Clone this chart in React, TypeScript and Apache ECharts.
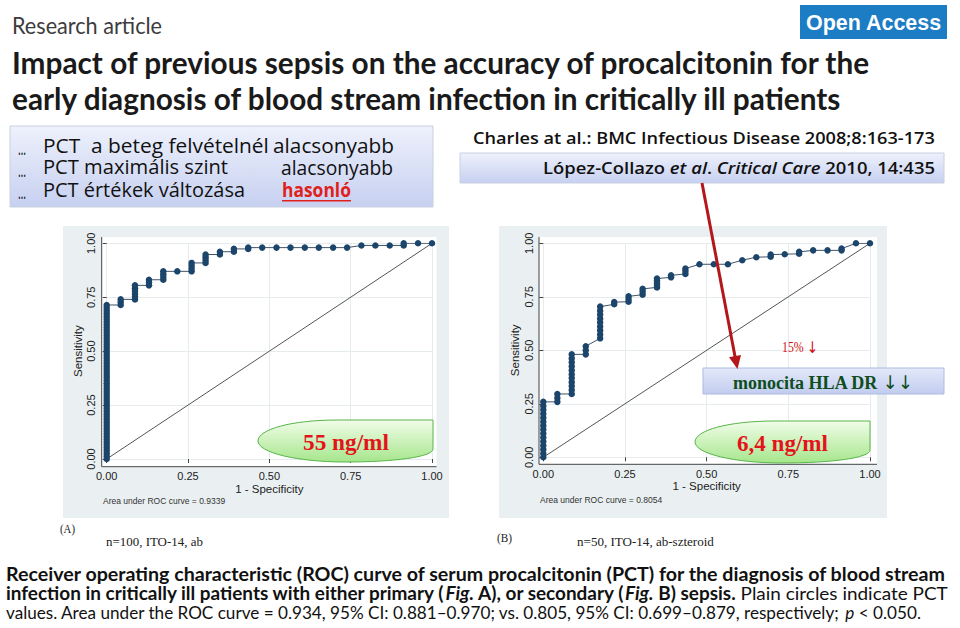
import React, { useEffect, useRef } from "react";
import * as echarts from "echarts";

// ---------- data ----------
const fprSteps = [0, 0.043, 0.087, 0.13, 0.174, 0.217, 0.261, 0.304, 0.348, 0.391, 0.435, 0.478, 0.522, 0.565, 0.609, 0.652, 0.696, 0.739, 0.783, 0.826, 0.87, 0.913, 0.957, 1.0];

// Sensitivity values of the ROC points found at each 1 - specificity step (Fig. A, n=100)
const rocA_tpr: number[][] = [
  [0, 0.013, 0.026, 0.039, 0.052, 0.065, 0.078, 0.091, 0.104, 0.117, 0.13, 0.143, 0.156, 0.169, 0.182, 0.195, 0.208, 0.221, 0.234, 0.247, 0.26, 0.273, 0.286, 0.299, 0.312, 0.325, 0.338, 0.351, 0.364, 0.377, 0.39, 0.403, 0.416, 0.429, 0.442, 0.455, 0.468, 0.481, 0.494, 0.506, 0.519, 0.532, 0.545, 0.558, 0.571, 0.584, 0.597, 0.61, 0.623, 0.636, 0.649, 0.662, 0.675, 0.688, 0.701, 0.714],
  [0.714, 0.727, 0.74],
  [0.74, 0.753, 0.766, 0.779, 0.792, 0.805],
  [0.805, 0.818, 0.831],
  [0.831, 0.844, 0.857, 0.87],
  [0.87],
  [0.87, 0.883, 0.896, 0.909],
  [0.909, 0.922, 0.935, 0.948],
  [0.948, 0.961],
  [0.961, 0.974],
  [0.974, 0.98],
  [0.98], [0.98], [0.98], [0.98], [0.98], [0.98], [0.98],
  [0.99], [0.99], [0.99],
  [0.99, 1.0],
  [1.0], [1.0],
];

// Fig. B, n=50
const rocB_tpr: number[][] = [
  [0, 0.018, 0.037, 0.055, 0.074, 0.092, 0.111, 0.13, 0.148, 0.166, 0.185, 0.203, 0.222, 0.24, 0.259],
  [0.259, 0.277, 0.296],
  [0.296, 0.314, 0.333, 0.351, 0.37, 0.388, 0.407, 0.425, 0.444, 0.462, 0.481],
  [0.481, 0.5, 0.519],
  [0.556, 0.574, 0.593, 0.611, 0.63, 0.648, 0.667, 0.685, 0.704],
  [0.715, 0.725],
  [0.727, 0.74, 0.752],
  [0.76, 0.774, 0.787],
  [0.794, 0.805, 0.815, 0.825, 0.835],
  [0.841, 0.85],
  [0.857, 0.87, 0.882],
  [0.902], [0.902], [0.902],
  [0.921],
  [0.935],
  [0.937, 0.947],
  [0.949],
  [0.951, 0.96],
  [0.967], [0.967],
  [0.967, 0.975],
  [1.0], [1.0],
];

const diagonal = [[0, 0], [1, 1]];
const aucA = "Area under ROC curve = 0.9339";
const aucB = "Area under ROC curve = 0.8054";
const cutoffA = "55 ng/ml";
const cutoffB = "6,4 ng/ml";

const toPoints = (tpr: number[][]) => fprSteps.flatMap((x, i) => tpr[i].map((y) => [x, y]));

// ---------- helpers ----------
let measureCtx: CanvasRenderingContext2D | null = null;
function measure(text: string, font: string) {
  if (!measureCtx) measureCtx = document.createElement("canvas").getContext("2d");
  measureCtx!.font = font;
  return measureCtx!.measureText(text).width;
}
type Seg = { t: string; font: string; fill: string; underline?: boolean; size?: number };
function fitLine(segs: Seg[], x: number, y: number, width: number, z = 10) {
  const widths = segs.map((s) => measure(s.t, s.font));
  const total = widths.reduce((a, b) => a + b, 0);
  const sx = width / total;
  let cum = 0;
  const children: any[] = [];
  segs.forEach((s, i) => {
    children.push({ type: "text", z, x: cum, y: 0, style: { text: s.t, font: s.font, fill: s.fill, verticalAlign: "middle", align: "left" } });
    if (s.underline) {
      const off = (s.size || 16) * 0.62;
      children.push({ type: "line", z, shape: { x1: cum, y1: off, x2: cum + widths[i], y2: off }, style: { stroke: s.fill, lineWidth: 1.6 } });
    }
    cum += widths[i];
  });
  return { type: "group", x, y, scaleX: sx, z, children };
}
const one = (t: string, font: string, fill: string, x: number, y: number, w: number, z = 10) => fitLine([{ t, font, fill }], x, y, w, z);

const blueGrad = (top: string, bottom: string) => ({
  type: "linear", x: 0, y: 0, x2: 0, y2: 1,
  colorStops: [{ offset: 0, color: top }, { offset: 1, color: bottom }],
});

const TAG_PATH = "M175,0 L80,0 C33,0 0,9.4 0,21 C0,32.6 39,42 87,42 C136,42 175,37 175,29 Z";
let registered = false;

export default function App() {
  const ref = useRef<HTMLDivElement>(null);
  useEffect(() => {
    document.body.style.margin = "0";
    if (!registered) {
      echarts.graphic.registerShape("greenTag", (echarts.graphic as any).extendPath(TAG_PATH, {}));
      registered = true;
    }
    const chart = echarts.init(ref.current!, null, { renderer: "svg" });

    const axisFont = "Liberation Sans";
    const mkX = (gi: number, offset: number) => ({
      type: "value", gridIndex: gi, min: 0, max: 1, interval: 0.25, offset,
      axisLine: { show: false },
      axisTick: { show: true, length: 4, lineStyle: { color: "#444", width: 1 } },
      axisLabel: { formatter: (v: number) => v.toFixed(2), fontSize: 11, color: "#222", margin: 4, fontFamily: axisFont, hideOverlap: false, showMinLabel: true, showMaxLabel: true },
      splitLine: { show: true, lineStyle: { color: "#e6ecee", width: 1 } },
      name: "1 - Specificity", nameLocation: "middle", nameGap: 15,
      nameTextStyle: { fontSize: 11.5, color: "#222", fontFamily: axisFont },
    });
    const mkY = (gi: number, offset: number) => ({
      type: "value", gridIndex: gi, min: 0, max: 1, interval: 0.25, offset,
      axisLine: { show: false },
      axisTick: { show: true, length: 4, lineStyle: { color: "#444", width: 1 } },
      axisLabel: { formatter: (v: number) => v.toFixed(2), rotate: 90, fontSize: 11, color: "#222", margin: 5, fontFamily: axisFont, hideOverlap: false, showMinLabel: true, showMaxLabel: true },
      splitLine: { show: true, lineStyle: { color: "#e6ecee", width: 1 } },
      name: "Sensitivity", nameLocation: "middle", nameGap: 18, nameRotate: 90,
      nameTextStyle: { fontSize: 11.5, color: "#222", fontFamily: axisFont },
    });
    const rocSeries = (i: number, data: number[][]) => ({
      type: "line", xAxisIndex: i, yAxisIndex: i, data, symbol: "circle", symbolSize: 6.5,
      itemStyle: { color: "#1c456b" }, lineStyle: { color: "#3f5468", width: 1 }, z: 3, silent: true,
    });
    const diagSeries = (i: number) => ({
      type: "line", xAxisIndex: i, yAxisIndex: i, data: diagonal, symbol: "none",
      lineStyle: { color: "#555", width: 1 }, z: 2, silent: true,
    });

    const sans = "Lato";
    const comic = "Open Sans";
    const serif = "Liberation Serif";

    const graphic: any[] = [
      // panels
      { type: "rect", z: -10, shape: { x: 63, y: 226, width: 386, height: 292 }, style: { fill: "#eaf0f2" } },
      { type: "rect", z: -10, shape: { x: 499, y: 226, width: 388, height: 292 }, style: { fill: "#eaf0f2" } },
      { type: "rect", z: -9, shape: { x: 101.7, y: 237, width: 334.8, height: 229.7 }, style: { fill: "#ffffff" } },
      { type: "rect", z: -9, shape: { x: 539, y: 237, width: 338, height: 227.3 }, style: { fill: "#ffffff" } },
      // axis lines
      { type: "polyline", z: 1, shape: { points: [[101.7, 237], [101.7, 466.7], [436.5, 466.7]] }, style: { stroke: "#444", lineWidth: 1, fill: "none" } },
      { type: "polyline", z: 1, shape: { points: [[539, 237], [539, 464.3], [877, 464.3]] }, style: { stroke: "#444", lineWidth: 1, fill: "none" } },
      // AUC notes
      { type: "text", x: 103, y: 501, z: 5, style: { text: aucA, font: `8.5px ${axisFont}`, fill: "#333", verticalAlign: "middle" } },
      { type: "text", x: 540, y: 500, z: 5, style: { text: aucB, font: `8.5px ${axisFont}`, fill: "#333", verticalAlign: "middle" } },

      // header
      one("Research article", `23px ${sans}`, "#3c3c3c", 12, 25, 150),
      { type: "rect", z: 5, shape: { x: 800, y: 5, width: 147, height: 34 }, style: { fill: "#1c7cc4" } },
      one("Open Access", `bold 22px ${axisFont}`, "#ffffff", 806, 22, 136),
      one("Impact of previous sepsis on the accuracy of procalcitonin for the", `bold 30px ${sans}`, "#1a1a1a", 12, 62, 860),
      one("early diagnosis of blood stream infection in critically ill patients", `bold 30px ${sans}`, "#1a1a1a", 12, 98, 831),

      // left box
      { type: "rect", z: 5, shape: { x: 10, y: 126, width: 423, height: 81 }, style: { fill: blueGrad("#eef1fc", "#c6d0f0"), stroke: "#c9d0e2", lineWidth: 1 } },
      one("…", `20px ${comic}`, "#111", 18, 147, 8),
      one("PCT  a beteg felvételnél", `20px ${comic}`, "#111", 43, 145, 226),
      one("alacsonyabb", `20px ${comic}`, "#111", 273, 145, 121),
      one("…", `20px ${comic}`, "#111", 18, 169, 8),
      one("PCT maximális szint", `20px ${comic}`, "#111", 43, 167, 185),
      one("alacsonyabb", `20px ${comic}`, "#111", 281, 167, 112),
      one("…", `20px ${comic}`, "#111", 18, 191, 8),
      one("PCT értékek változása", `20px ${comic}`, "#111", 43, 189, 202),
      fitLine([{ t: "hasonló", font: `bold 20px ${comic}`, fill: "#e0201a", underline: true, size: 19 }], 282, 189, 69),

      // citations
      one("Charles at al.: BMC Infectious Disease 2008;8:163-173", `600 16px ${comic}`, "#111", 473, 138, 462),
      { type: "rect", z: 5, shape: { x: 460, y: 153, width: 484, height: 30 }, style: { fill: blueGrad("#eef1fc", "#c6d0f0"), stroke: "#c9d0e2", lineWidth: 1 } },
      fitLine([
        { t: "López-Collazo ", font: `600 16px ${comic}`, fill: "#111" },
        { t: "et al", font: `italic 600 16px ${comic}`, fill: "#111" },
        { t: ". ", font: `600 16px ${comic}`, fill: "#111" },
        { t: "Critical Care", font: `italic 600 16px ${comic}`, fill: "#111" },
        { t: " 2010, 14:435", font: `600 16px ${comic}`, fill: "#111" },
      ], 543, 168, 392),

      // green cut-off tags
      { type: "greenTag", x: 258, y: 420, z: 12, style: { fill: blueGrad("#f1fde9", "#a6e68c"), stroke: "#58b54a", lineWidth: 1 } },
      one(cutoffA, `bold 23px ${serif}`, "#e3141b", 303, 442, 86, 13),
      { type: "greenTag", x: 695, y: 421, z: 12, style: { fill: blueGrad("#f1fde9", "#a6e68c"), stroke: "#58b54a", lineWidth: 1 } },
      one(cutoffB, `bold 23px ${serif}`, "#e3141b", 737, 443, 91, 13),

      // monocyte note
      fitLine([
        { t: "15% ", font: `14px ${serif}`, fill: "#d01010" },
        { t: "↓", font: `16px DejaVu Sans`, fill: "#d01010" },
      ], 782, 347, 36, 13),
      { type: "rect", z: 14, shape: { x: 703, y: 368, width: 241, height: 26 }, style: { fill: blueGrad("#e3e9f9", "#c2ccef"), stroke: "#aebbe0", lineWidth: 1 } },
      fitLine([
        { t: "monocita HLA DR ", font: `bold 19px ${serif}`, fill: "#0f4d1e" },
        { t: "↓↓", font: `19px DejaVu Sans`, fill: "#0f4d1e" },
      ], 733, 382, 180, 15),
      // arrow
      { type: "line", z: 20, shape: { x1: 702, y1: 183, x2: 735.5, y2: 359 }, style: { stroke: "#b3161b", lineWidth: 3 } },
      { type: "polygon", z: 20, shape: { points: [[737.5, 369], [741, 355], [729, 357.3]] }, style: { fill: "#b3161b" } },

      // panel labels
      one("(A)", `12px ${serif}`, "#222", 60, 529, 15),
      one("n=100, ITO-14, ab", `12px ${serif}`, "#222", 106, 542, 97),
      one("(B)", `12px ${serif}`, "#222", 497, 538, 15),
      one("n=50, ITO-14, ab-szteroid", `12px ${serif}`, "#222", 577, 542, 137),

      // caption
      one("Receiver operating characteristic (ROC) curve of serum procalcitonin (PCT) for the diagnosis of blood stream", `bold 18px ${sans}`, "#111", 6, 574, 941),
      fitLine([
        { t: "infection in critically ill patients with either primary (", font: `bold 18px ${sans}`, fill: "#111" },
        { t: "Fig.", font: `italic bold 18px ${sans}`, fill: "#111" },
        { t: " A), or secondary (", font: `bold 18px ${sans}`, fill: "#111" },
        { t: "Fig.", font: `italic bold 18px ${sans}`, fill: "#111" },
        { t: " B) sepsis.", font: `bold 18px ${sans}`, fill: "#111" },
        { t: " Plain circles indicate PCT", font: `18px ${sans}`, fill: "#111" },
      ], 6, 593, 942),
      fitLine([
        { t: "values. Area under the ROC curve = 0.934, 95% CI: 0.881–0.970; vs. 0.805, 95% CI: 0.699–0.879, respectively; ", font: `18px ${sans}`, fill: "#111" },
        { t: "p", font: `italic 18px ${sans}`, fill: "#111" },
        { t: " < 0.050.", font: `18px ${sans}`, fill: "#111" },
      ], 6, 612, 915),
    ];

    chart.setOption({
      animation: false,
      backgroundColor: "#ffffff",
      grid: [
        { left: 106.7, top: 243.3, width: 325.3, height: 215.7, containLabel: false, outerBoundsMode: "none" },
        { left: 543.3, top: 243.3, width: 326.7, height: 214, containLabel: false, outerBoundsMode: "none" },
      ],
      xAxis: [mkX(0, 7.7), mkX(1, 7)],
      yAxis: [mkY(0, 5), mkY(1, 4.3)],
      series: [diagSeries(0), rocSeries(0, toPoints(rocA_tpr)), diagSeries(1), rocSeries(1, toPoints(rocB_tpr))],
      graphic,
    });
    return () => chart.dispose();
  }, []);
  return <div ref={ref} style={{ width: 960, height: 628 }} />;
}
